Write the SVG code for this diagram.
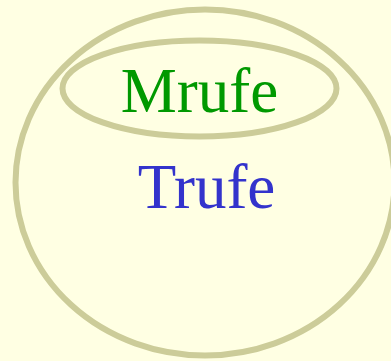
<svg xmlns="http://www.w3.org/2000/svg" width="391" height="361" viewBox="0 0 391 361">
<style>
.set{fill:none;stroke:#cccc99;stroke-width:6}
.lbl{font-family:"Liberation Serif",serif;font-size:63px;text-anchor:middle}
</style>
<rect width="391" height="361" fill="#ffffe3"/>
<g id="Trufe">
<ellipse class="set" cx="205" cy="182.5" rx="189.5" ry="173"/>
<text class="lbl" x="206.5" y="208" fill="#3333cc">Trufe</text>
</g>
<g id="Mrufe">
<ellipse class="set" cx="199.5" cy="88.5" rx="137" ry="48"/>
<text class="lbl" x="199.5" y="112" fill="#009900">Mrufe</text>
</g>
<g id="connectors"/>
</svg>
